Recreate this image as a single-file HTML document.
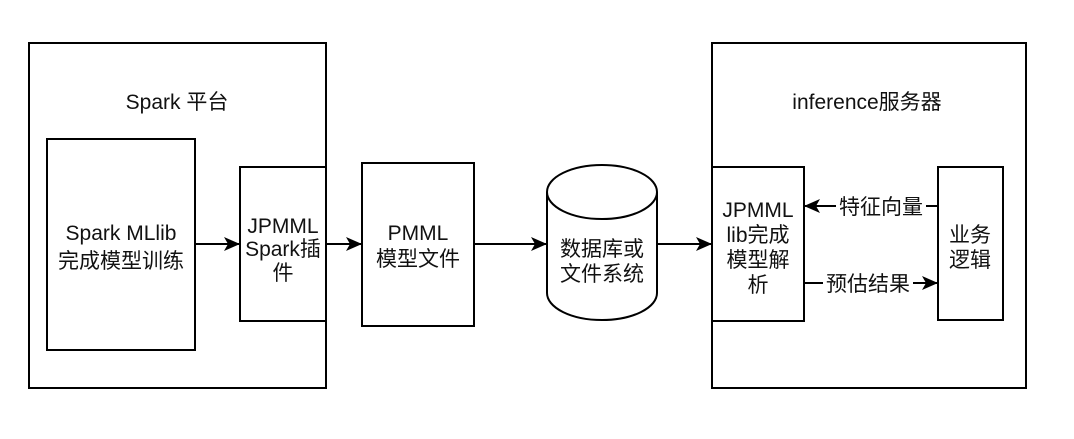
<!DOCTYPE html>
<html><head><meta charset="utf-8"><style>
body{margin:0;background:#fff}
svg text{font-family:"Liberation Sans","Noto Sans CJK SC",sans-serif;font-size:21px;fill:#111;text-anchor:middle}
</style></head><body>
<svg width="1074" height="434" viewBox="0 0 1074 434" xmlns="http://www.w3.org/2000/svg">
<defs><marker id="a" markerWidth="16" markerHeight="16" refX="15" refY="8" orient="auto" markerUnits="userSpaceOnUse"><path d="M0,1 L16,8 L0,15 L4,8 Z" fill="#000"/></marker></defs>
<g fill="#fff" stroke="#000" stroke-width="2">
<rect x="29" y="43" width="297" height="345"/>
<rect x="47" y="139" width="148" height="211"/>
<rect x="240" y="167" width="86" height="154"/>
<rect x="362" y="163" width="112" height="163"/>
<rect x="712" y="43" width="314" height="345"/>
<rect x="712" y="167" width="92" height="154"/>
<rect x="938" y="167" width="65" height="153"/>
<path d="M547,192 A55,27 0 0 1 657,192 L657,293 A55,27 0 0 1 547,293 Z"/>
<path d="M547,192 A55,27 0 0 0 657,192" fill="none"/>
</g>
<g stroke="#000" stroke-width="2" fill="none" marker-end="url(#a)">
<line x1="195" y1="244" x2="239" y2="244"/>
<line x1="326" y1="244" x2="361" y2="244"/>
<line x1="474" y1="244" x2="546" y2="244"/>
<line x1="657" y1="244" x2="711" y2="244"/>
<line x1="938" y1="206" x2="805" y2="206"/>
<line x1="804" y1="283" x2="937" y2="283"/>
</g>
<rect x="836" y="193" width="90" height="26" fill="#fff"/>
<rect x="823" y="270" width="90" height="26" fill="#fff"/>
<text x="177" y="109">Spark 平台</text>
<text x="867" y="109">inference服务器</text>
<text x="121" y="240">Spark MLlib</text>
<text x="121" y="268">完成模型训练</text>
<text x="283" y="233">JPMML</text>
<text x="283" y="256">Spark插</text>
<text x="283" y="280">件</text>
<text x="418" y="240">PMML</text>
<text x="418" y="266">模型文件</text>
<text x="602" y="256">数据库或</text>
<text x="602" y="281">文件系统</text>
<text x="758" y="217">JPMML</text>
<text x="758" y="242">lib完成</text>
<text x="758" y="267">模型解</text>
<text x="758" y="292">析</text>
<text x="881" y="214">特征向量</text>
<text x="868" y="291">预估结果</text>
<text x="970" y="242">业务</text>
<text x="970" y="267">逻辑</text>
</svg>
</body></html>
